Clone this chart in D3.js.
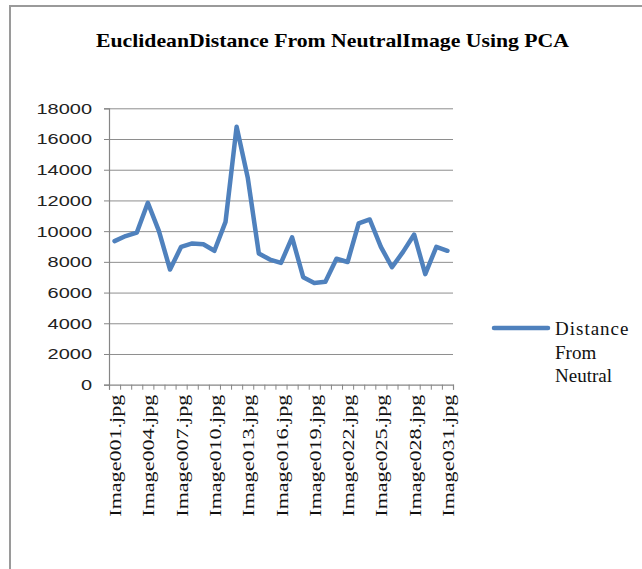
<!DOCTYPE html>
<html>
<head>
<meta charset="utf-8">
<script src="https://cdn.jsdelivr.net/npm/d3@7"></script>
<style>
  html, body { margin: 0; padding: 0; background: #fff; }
  svg { display: block; }
</style>
</head>
<body>
<svg id="chart" width="642" height="569"></svg>
<script>
// Image names along the category axis
const categories = [
  "Image001.jpg", "Image002.jpg", "Image003.jpg", "Image004.jpg", "Image005.jpg",
  "Image006.jpg", "Image007.jpg", "Image008.jpg", "Image009.jpg", "Image010.jpg",
  "Image011.jpg", "Image012.jpg", "Image013.jpg", "Image014.jpg", "Image015.jpg",
  "Image016.jpg", "Image017.jpg", "Image018.jpg", "Image019.jpg", "Image020.jpg",
  "Image021.jpg", "Image022.jpg", "Image023.jpg", "Image024.jpg", "Image025.jpg",
  "Image026.jpg", "Image027.jpg", "Image028.jpg", "Image029.jpg", "Image030.jpg",
  "Image031.jpg"
];

// Euclidean distance of each image from the neutral image (PCA space)
const distances = [
  9350, 9680, 9900, 11850, 10000,
  7500, 8980, 9200, 9150, 8720,
  10600, 16800, 13500, 8550, 8150,
  7930, 9600, 7000, 6630, 6700,
  8200, 7990, 10500, 10760, 8980,
  7650, 8650, 9780, 7200, 8980,
  8720
];

// Category labels printed under the axis (every third image)
const shownLabels = [
  "Image001.jpg", "Image004.jpg", "Image007.jpg", "Image010.jpg",
  "Image013.jpg", "Image016.jpg", "Image019.jpg", "Image022.jpg",
  "Image025.jpg", "Image028.jpg", "Image031.jpg"
];

const yTicks = [0, 2000, 4000, 6000, 8000, 10000, 12000, 14000, 16000, 18000];

const titleText = "EuclideanDistance From NeutralImage Using PCA";
const legendLines = ["Distance", "From", "Neutral"];

// ---- layout ----
const plot = { left: 109, right: 453, top: 108.3, bottom: 384.7 };
const lineColor = "#4f81bd";
const gridColor = "#8e8e8e";
const axisColor = "#868686";
const serif = "'Liberation Serif', 'Times New Roman', serif";

const svg = d3.select("#chart");

// outer chart frame
svg.append("rect")
  .attr("x", 10).attr("y", 6)
  .attr("width", 700).attr("height", 700)
  .attr("fill", "#fff")
  .attr("stroke", "#9a9a9a")
  .attr("stroke-width", 2);

// title
svg.append("text")
  .attr("x", 96).attr("y", 47)
  .attr("textLength", 473)
  .attr("lengthAdjust", "spacingAndGlyphs")
  .style("font-family", serif)
  .style("font-weight", "bold")
  .style("font-size", "19px")
  .attr("fill", "#000")
  .text(titleText);

// scales
const x = d3.scaleBand().domain(categories).range([plot.left, plot.right]).padding(0);
const xEdge = d3.scaleLinear().domain([0, categories.length]).range([plot.left, plot.right]);
const y = d3.scaleLinear().domain([0, 18000]).range([plot.bottom, plot.top]);

// horizontal gridlines
svg.append("g")
  .attr("transform", `translate(${plot.left},0)`)
  .call(d3.axisLeft(y).tickValues(yTicks.filter(d => d > 0))
    .tickSize(-(plot.right - plot.left)).tickFormat(""))
  .call(g => g.select(".domain").remove())
  .call(g => g.selectAll("line").attr("stroke", gridColor).attr("stroke-width", 1));

// value axis with outward ticks
const yAxis = svg.append("g")
  .attr("transform", `translate(${plot.left},0)`)
  .call(d3.axisLeft(y).tickValues(yTicks).tickFormat(d3.format("d"))
    .tickSize(5).tickPadding(12));
yAxis.select(".domain").attr("stroke", axisColor).attr("stroke-width", 1.2);
yAxis.selectAll(".tick line").attr("stroke", axisColor);
yAxis.selectAll(".tick text")
  .attr("fill", "#222")
  .style("font-family", "'Liberation Sans', Arial, sans-serif")
  .style("font-size", "15.5px")
  .attr("textLength", d => String(d).length * 11.1)
  .attr("lengthAdjust", "spacingAndGlyphs");

// category axis: tick marks between categories
const xAxis = svg.append("g")
  .attr("transform", `translate(0,${plot.bottom})`)
  .call(d3.axisBottom(xEdge).tickValues(d3.range(categories.length + 1))
    .tickSize(5).tickFormat(""));
xAxis.select(".domain").attr("stroke", axisColor).attr("stroke-width", 1.2);
xAxis.selectAll(".tick line").attr("stroke", axisColor);

// rotated category labels
svg.append("g").selectAll("text")
  .data(shownLabels)
  .join("text")
  .attr("transform", d => `translate(${x(d) + x.bandwidth() / 2 + 1},${plot.bottom + 10}) rotate(-90)`)
  .attr("text-anchor", "end")
  .attr("dy", "0.33em")
  .attr("textLength", 122)
  .attr("lengthAdjust", "spacingAndGlyphs")
  .style("font-family", serif)
  .style("font-size", "17px")
  .attr("fill", "#111")
  .text(d => d);

// data line
const line = d3.line()
  .x((d, i) => x(categories[i]) + x.bandwidth() / 2)
  .y(d => y(d));

svg.append("path")
  .datum(distances)
  .attr("d", line)
  .attr("fill", "none")
  .attr("stroke", lineColor)
  .attr("stroke-width", 4.5)
  .attr("stroke-linejoin", "round")
  .attr("stroke-linecap", "round");

// legend
const legend = svg.append("g");
legend.append("line")
  .attr("x1", 494).attr("x2", 548)
  .attr("y1", 328).attr("y2", 328)
  .attr("stroke", lineColor)
  .attr("stroke-width", 4.5)
  .attr("stroke-linecap", "round");

legend.selectAll("text")
  .data(legendLines)
  .join("text")
  .attr("x", 555)
  .attr("y", (d, i) => 335 + i * 23.5)
  .style("font-family", serif)
  .style("font-size", "19px")
  .style("letter-spacing", (d, i) => i === 0 ? "1px" : "0px")
  .attr("fill", "#111")
  .text(d => d);
</script>
</body>
</html>
